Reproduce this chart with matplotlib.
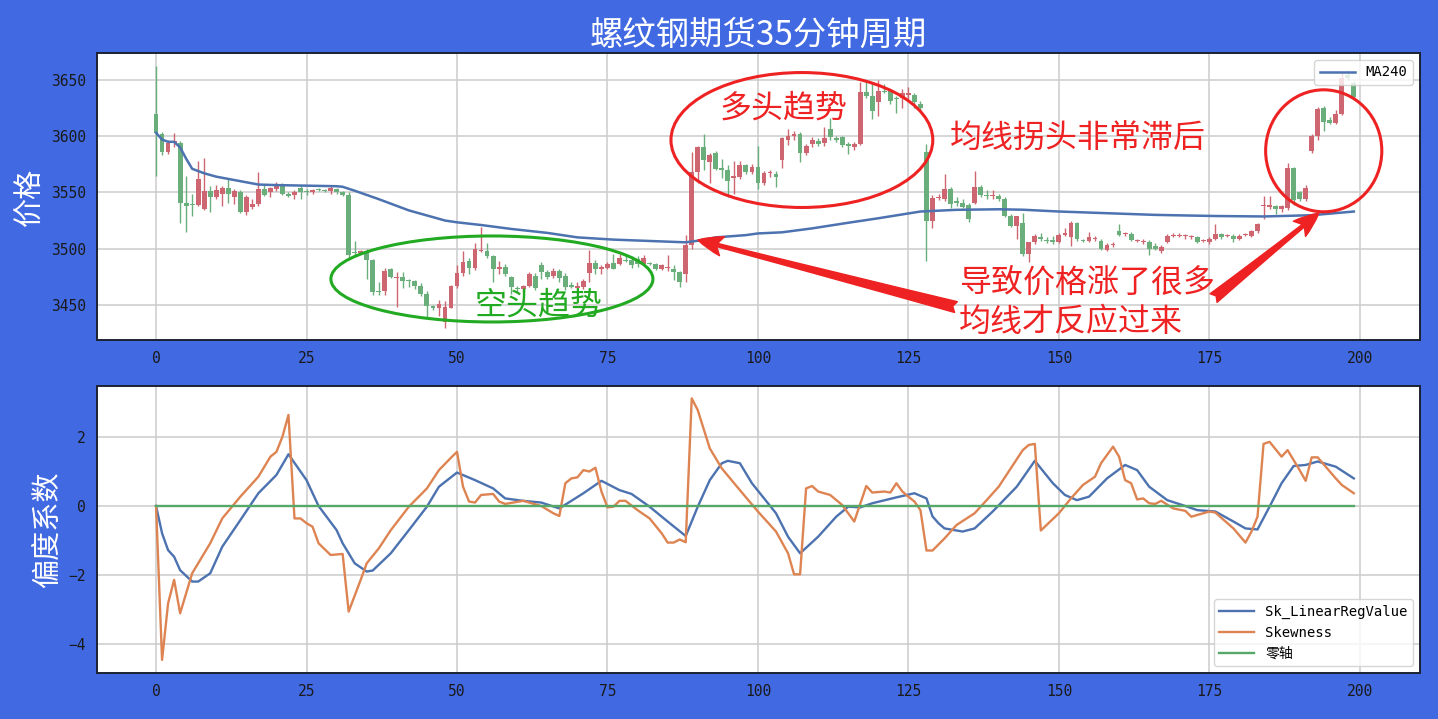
import numpy as np
import matplotlib
matplotlib.use("Agg")
import matplotlib.pyplot as plt
from matplotlib.patches import Ellipse

# candle data (index 0..199)
opens = [3620, 3602, 3586, 3594, 3594, 3541, 3540, 3539, 3535, 3551,
         3546, 3549, 3554, 3546, 3550, 3533, 3537, 3540, 3553, 3550,
         3553, 3556, 3549, 3548, 3554, 3551, 3550, 3553, 3552, 3551,
         3553, 3550, 3548, 3497, 3496, 3498, 3490, 3462, 3462, 3482,
         3474, 3475, 3472, 3471, 3467, 3460, 3449, 3447, 3435, 3447,
         3467, 3478, 3489, 3483, 3498, 3498, 3493, 3482, 3484, 3475,
         3465, 3464, 3467, 3476, 3485, 3479, 3476, 3480, 3476, 3468,
         3465, 3466, 3478, 3487, 3482, 3483, 3487, 3486, 3490, 3490,
         3491, 3486, 3486.5, 3486, 3482, 3483, 3482, 3479, 3477, 3503,
         3568, 3590, 3577, 3585, 3572, 3570, 3563, 3564, 3574, 3568,
         3573, 3558, 3567, 3566, 3579, 3597, 3600, 3602, 3585, 3593,
         3596, 3594, 3606, 3598, 3599, 3593, 3590, 3593, 3639, 3636,
         3630, 3640, 3640, 3634, 3634, 3637, 3637, 3629, 3586, 3525,
         3545, 3544, 3553, 3542, 3541, 3539, 3541, 3555, 3548, 3547,
         3547, 3544, 3529, 3520, 3523, 3495, 3506, 3510, 3508, 3508,
         3506, 3512, 3510, 3523, 3508, 3507, 3509, 3507, 3499, 3503,
         3516, 3513, 3513, 3507, 3506, 3506, 3502, 3498, 3506, 3511,
         3511, 3511, 3510, 3510, 3507, 3506, 3509, 3513, 3511, 3511,
         3509, 3512, 3511, 3516, 3538, 3537, 3538, 3535, 3536, 3572,
         3550, 3544, 3587, 3600, 3625, 3614, 3612, 3620, 3654, 3647]
highs = [3662, 3604, 3597, 3603, 3596, 3565, 3549, 3578, 3581, 3556,
         3557, 3556, 3562, 3553, 3552, 3548, 3544, 3568, 3557, 3555,
         3559, 3558, 3550, 3552, 3557, 3553, 3553, 3554, 3553, 3556,
         3554, 3551, 3550, 3507, 3499, 3500, 3491, 3470, 3483, 3483,
         3479, 3479, 3473, 3472, 3469, 3462, 3450, 3454, 3453, 3468,
         3485, 3498, 3492, 3505, 3519, 3505, 3494, 3489, 3486, 3476,
         3467, 3468, 3479, 3478, 3488, 3481, 3483, 3482, 3478, 3470,
         3470, 3473, 3499, 3490, 3485, 3488, 3495, 3495, 3493, 3493,
         3493, 3494, 3488, 3487, 3486, 3494, 3485, 3480, 3512, 3586,
         3591, 3602, 3585, 3587, 3580, 3574, 3578, 3578, 3575, 3575,
         3591, 3569, 3570, 3569, 3599, 3606, 3605, 3604, 3593, 3599,
         3598, 3608, 3616, 3600, 3600, 3595, 3595, 3648, 3650, 3648,
         3650, 3646, 3642, 3636, 3642, 3644, 3638, 3631, 3593, 3548,
         3549, 3566, 3555, 3546, 3544, 3541, 3569, 3557, 3552, 3552,
         3549, 3546, 3531, 3529, 3532, 3506, 3513, 3514, 3510, 3511,
         3514, 3518, 3525, 3524, 3509, 3515, 3511, 3509, 3505, 3506,
         3522, 3515, 3515, 3509, 3509, 3508, 3505, 3503, 3513, 3514,
         3514, 3513, 3512, 3511, 3509, 3510, 3522, 3514, 3513, 3513,
         3513, 3514, 3517, 3523, 3547, 3547, 3539, 3539, 3576, 3573,
         3551, 3557, 3602, 3626, 3627, 3617, 3623, 3656, 3659, 3649]
lows = [3565, 3583, 3584, 3590, 3523, 3515, 3529, 3538, 3534, 3533,
        3544, 3538, 3541, 3540, 3532, 3530, 3535, 3538, 3547, 3546,
        3551, 3548, 3546, 3544, 3544, 3548, 3549, 3551, 3550, 3549,
        3549, 3547, 3492, 3494, 3495, 3473, 3459, 3459, 3459, 3474,
        3448, 3465, 3466, 3464, 3458, 3438, 3445, 3440, 3429, 3447,
        3465, 3476, 3477, 3481, 3497, 3492, 3470, 3477, 3476, 3460,
        3461, 3461, 3466, 3463, 3473, 3473, 3474, 3470, 3463, 3465,
        3464, 3464, 3470, 3477, 3477, 3482, 3482, 3485, 3488, 3483,
        3484, 3485, 3485, 3481, 3481, 3480, 3472, 3466, 3470, 3500,
        3558, 3570, 3558, 3570, 3563, 3546, 3549, 3562, 3566, 3566,
        3553, 3557, 3564, 3555, 3572, 3592, 3597, 3577, 3583, 3590,
        3591, 3591, 3597, 3595, 3590, 3584, 3588, 3592, 3634, 3615,
        3618, 3638, 3629, 3621, 3625, 3633, 3625, 3623, 3489, 3518,
        3543, 3542, 3536, 3538, 3536, 3524, 3540, 3546, 3544, 3544,
        3542, 3528, 3519, 3509, 3493, 3488, 3504, 3507, 3505, 3504,
        3505, 3511, 3502, 3507, 3506, 3506, 3507, 3499, 3498, 3501,
        3511, 3511, 3507, 3506, 3504, 3494, 3499, 3496, 3505, 3510,
        3510, 3509, 3509, 3505, 3506, 3504, 3508, 3509, 3510, 3506,
        3508, 3511, 3510, 3514, 3526, 3535, 3531, 3533, 3534, 3539,
        3542, 3542, 3585, 3597, 3605, 3611, 3611, 3619, 3650, 3632]
closes = [3603, 3586, 3594, 3596, 3541, 3538, 3539, 3562, 3551, 3546,
          3552, 3554, 3549, 3551, 3533, 3546, 3540, 3553, 3548, 3554,
          3557, 3549, 3547, 3550, 3550, 3550, 3552, 3552, 3551, 3554,
          3550, 3548, 3494, 3496, 3498, 3490, 3461, 3461, 3480, 3475,
          3475, 3471, 3471, 3467, 3460, 3449, 3447, 3451, 3448, 3467,
          3478, 3488, 3483, 3500, 3499, 3493, 3482, 3484, 3477, 3466,
          3464, 3467, 3477, 3465, 3479, 3475, 3480, 3474, 3466, 3466,
          3467, 3471, 3487, 3482, 3484, 3486, 3482, 3492, 3489, 3485,
          3486, 3492, 3486, 3482, 3485, 3483.5, 3479, 3470, 3503, 3568,
          3590, 3579, 3583, 3571, 3570, 3560, 3565, 3574, 3568, 3573,
          3558, 3567, 3568, 3564, 3598, 3600, 3602, 3585, 3591, 3597,
          3593, 3598, 3599, 3597, 3592, 3591, 3593, 3639, 3636, 3622,
          3640, 3639, 3631, 3633, 3638, 3638, 3630, 3625, 3525, 3545,
          3546, 3553, 3540, 3541, 3537, 3526, 3555, 3548, 3547, 3548,
          3544, 3529, 3520, 3529, 3495, 3506, 3511, 3509, 3507, 3506,
          3512, 3514, 3523, 3509, 3507, 3510, 3509.5, 3500, 3503, 3503.5,
          3512, 3513.5, 3508, 3507.5, 3506.5, 3500, 3500, 3501, 3511, 3512,
          3511.5, 3511.5, 3510.5, 3506, 3507.5, 3509, 3513, 3510, 3511.5, 3509,
          3511, 3512.5, 3516, 3522, 3538.5, 3539, 3535, 3538, 3572, 3543,
          3544, 3554, 3600, 3624, 3613, 3612, 3620, 3652, 3652, 3635]

# MA240 line, points
ma_idx = [0, 1, 2, 3, 4, 5, 6, 8, 10, 12, 15, 17, 20, 25, 30, 31, 33, 37, 42,
          48, 50, 54, 59, 65, 70, 76, 81, 88, 90, 93, 98, 100, 104, 109, 115,
          120, 127, 133, 140, 144, 150, 158, 166, 176, 184, 192, 199]
ma_val = [3603, 3597, 3595, 3595, 3590, 3580, 3571, 3567, 3564, 3562, 3559,
          3557, 3556.5, 3556, 3555.5, 3555, 3551.5, 3544, 3534, 3525, 3523.4,
          3521, 3517.5, 3514, 3510, 3508, 3507, 3505.6, 3507, 3510, 3512,
          3513.5, 3514.5, 3518, 3523, 3527, 3533, 3534.5, 3535, 3534.6, 3533,
          3531.5, 3530, 3529, 3528.6, 3529.7, 3533]

# Sk_LinearRegValue
sk_x = [0, 1, 2, 3, 4, 6, 7, 9, 11, 14, 17, 20, 22, 25, 27, 30, 31, 33, 35,
        36, 39, 42, 45, 47, 50, 53, 56, 58, 61, 64, 67, 71, 74, 77, 79, 82,
        85, 88, 90, 92, 94, 95, 97, 99, 103, 105, 107, 110, 113, 115, 117,
        119, 123, 126, 128, 129, 130, 131, 134, 136, 139, 143, 146, 149, 151,
        153, 155, 158, 161, 163, 165, 168, 171, 173, 176, 179, 181, 183, 185,
        187, 189, 191, 193, 196, 199]
sk_y = [0, -0.79, -1.28, -1.47, -1.86, -2.19, -2.19, -1.95, -1.18, -0.41,
        0.37, 0.9, 1.5, 0.75, 0, -0.7, -1.08, -1.66, -1.9, -1.87, -1.37,
        -0.7, -0.02, 0.56, 0.97, 0.75, 0.51, 0.22, 0.15, 0.1, -0.07, 0.37,
        0.73, 0.46, 0.35, -0.02, -0.45, -0.87, -0.02, 0.75, 1.24, 1.31, 1.24,
        0.66, -0.21, -0.89, -1.37, -0.89, -0.31, -0.02, -0.04, 0.08, 0.25,
        0.37, 0.22, -0.3, -0.5, -0.65, -0.74, -0.65, -0.16, 0.56, 1.31, 0.66,
        0.32, 0.17, 0.27, 0.8, 1.19, 1.04, 0.56, 0.17, 0, -0.12, -0.16, -0.45,
        -0.65, -0.68, -0.02, 0.66, 1.16, 1.19, 1.29, 1.14, 0.8]

# Skewness
skew_x = [0, 1, 2, 3, 4, 6, 9, 11, 14, 17, 19, 20, 21, 22, 23, 24, 25, 26, 27,
          29, 31, 32, 34, 35, 37, 39, 42, 45, 47, 49, 50, 51, 52, 53, 54, 56,
          57, 58, 61, 64, 66, 67, 68, 69, 70, 71, 72, 73, 74, 75, 76, 77, 78,
          80, 82, 84, 85, 86, 87, 88, 89, 90, 92, 94, 97, 100, 103, 105, 106,
          107, 108, 109, 110, 112, 114, 115, 116, 118, 119, 121, 122, 123, 124,
          125, 126, 127, 128, 129, 131, 133, 136, 138, 140, 142, 144, 145, 146,
          147, 150, 152, 154, 156, 157, 159, 160, 161, 162, 163, 164, 165, 166,
          167, 169, 171, 172, 175, 176, 179, 181, 182, 183, 184, 185, 187, 188,
          190, 191, 192, 193, 196, 197, 199]
skew_y = [0, -4.46, -2.82, -2.14, -3.11, -1.95, -1.08, -0.36, 0.27, 0.85, 1.43,
          1.57, 2.01, 2.64, -0.36, -0.36, -0.5, -0.6, -1.08, -1.42, -1.39,
          -3.06, -2.14, -1.66, -1.23, -0.7, -0.02, 0.51, 1.04, 1.4, 1.57, 0.56,
          0.13, 0.1, 0.32, 0.35, 0.13, 0.06, 0.15, 0.0, -0.21, -0.29, 0.66, 0.8,
          0.83, 1.04, 1.0, 1.11, 0.42, -0.04, -0.02, 0.15, 0.15, -0.12, -0.36,
          -0.79, -1.06, -1.06, -0.97, -1.05, 3.12, 2.78, 1.67, 1.09, 0.46,
          -0.16, -0.74, -1.37, -1.98, -1.98, 0.51, 0.58, 0.42, 0.32, 0.03,
          -0.21, -0.45, 0.58, 0.39, 0.42, 0.39, 0.66, 0.42, 0.27, 0.13, -0.12,
          -1.29, -1.29, -0.94, -0.55, -0.21, 0.17, 0.56, 1.09, 1.62, 1.77, 1.8,
          -0.71, -0.21, 0.22, 0.61, 0.85, 1.24, 1.72, 1.43, 0.75, 0.66, 0.19,
          0.22, 0.08, 0.06, 0.15, -0.07, -0.14, -0.31, -0.16, -0.19, -0.65,
          -1.06, -0.74, -0.31, 1.8, 1.86, 1.43, 1.62, 1.04, 0.73, 1.41, 1.41,
          0.8, 0.61, 0.37]

zero_x = [0, 199]
zero_y = [0, 0]

BG = '#4169e1'
RED = '#cd6670'
GREEN = '#6aae7c'
BLUE = '#4c72b0'
ORANGE = '#dd8452'
ZGREEN = '#55a868'
CJK = 'Noto Sans CJK SC'
MONO = ['DejaVu Sans Mono', 'Noto Sans CJK SC']

plt.rcParams['font.family'] = MONO
plt.rcParams['axes.unicode_minus'] = True

fig, (ax1, ax2) = plt.subplots(2, 1, figsize=(14.38, 7.19), dpi=100)
fig.patch.set_facecolor(BG)
fig.subplots_adjust(left=0.0675, right=0.9875, top=0.9263, bottom=0.064, hspace=0.16)

# candles
idx = np.arange(len(opens))
o = np.array(opens)
c = np.array(closes)
up = c >= o
colors = np.where(up, RED, GREEN)
body_bottom = np.minimum(o, c)
body_h = np.maximum(np.abs(c - o), 0.8)
ax1.vlines(idx, lows, highs, colors=colors, linewidth=1.0, zorder=2)
ax1.bar(idx, body_h, bottom=body_bottom, width=0.8, color=colors, zorder=3)
ax1.plot(ma_idx, ma_val, color=BLUE, linewidth=1.8, label='MA240', zorder=4)

ax2.plot(sk_x, sk_y, color=BLUE, linewidth=1.7, label='Sk_LinearRegValue')
ax2.plot(skew_x, skew_y, color=ORANGE, linewidth=1.7, label='Skewness')
ax2.plot(zero_x, zero_y, color=ZGREEN, linewidth=1.7, label='零轴')

for ax in (ax1, ax2):
    ax.set_facecolor('white')
    ax.grid(True, color='#cccccc', linewidth=1.1)
    ax.set_axisbelow(True)
    ax.set_xlim(-9.8, 210)
    ax.set_xticks([0, 25, 50, 75, 100, 125, 150, 175, 200])
    ax.tick_params(length=0, labelsize=10.5, labelcolor='#1a1a1a', pad=8)
    for s in ax.spines.values():
        s.set_color('#1c2233')
        s.set_linewidth(1.4)

ax1.set_ylim(3418.7, 3674)
ax1.set_yticks([3450, 3500, 3550, 3600, 3650])
ax2.set_ylim(-4.84, 3.48)
ax2.set_yticks([-4, -2, 0, 2])

ax1.set_ylabel('价格', fontsize=21, color='white', family=CJK)
ax2.set_ylabel('偏度系数', fontsize=21, color='white', family=CJK)
fig.text(0.5275, 1 - 35 / 719, '螺纹钢期货35分钟周期', fontsize=24, color='white',
         family=CJK, ha='center', va='center')

ax1.legend(loc='upper right', fontsize=10, handlelength=2.5)
ax2.legend(loc='lower right', fontsize=10, handlelength=2.5)

# annotations
ax1.add_patch(Ellipse((55.8, 3473), 53.5, 76.5, fill=False, edgecolor='#22aa22', linewidth=2.2, zorder=5))
ax1.text(63.6, 3449, '空头趋势', color='#22aa22', fontsize=23, family=CJK, ha='center', va='center', zorder=6)
ax1.add_patch(Ellipse((107.3, 3596.6), 43.5, 120, fill=False, edgecolor='#ee2222', linewidth=2.2, zorder=5))
ax1.text(104.3, 3625, '多头趋势', color='#ee2222', fontsize=23, family=CJK, ha='center', va='center', zorder=6)
ax1.add_patch(Ellipse((194, 3587), 19.3, 108.5, fill=False, edgecolor='#ee2222', linewidth=2.2, zorder=5))
ax1.text(131.8, 3598, '均线拐头非常滞后', color='#ee2222', fontsize=23, family=CJK, ha='left', va='center', zorder=6)
ax1.text(133.4, 3470, '导致价格涨了很多', color='#ee2222', fontsize=23, family=CJK, ha='left', va='center', zorder=6)
ax1.text(133.4, 3434.5, '均线才反应过来', color='#ee2222', fontsize=23, family=CJK, ha='left', va='center', zorder=6)

arrow = dict(arrowstyle='fancy,head_length=0.9,head_width=0.7,tail_width=0.4',
             color='#ee2222', mutation_scale=20, shrinkA=0, shrinkB=0)
ax1.annotate('', xy=(90, 3507.7), xytext=(132.9, 3448), arrowprops=arrow, zorder=6)
ax1.annotate('', xy=(193.2, 3531.6), xytext=(175.7, 3456), arrowprops=arrow, zorder=6)

fig.savefig('out.png', dpi=100, facecolor=fig.get_facecolor())
